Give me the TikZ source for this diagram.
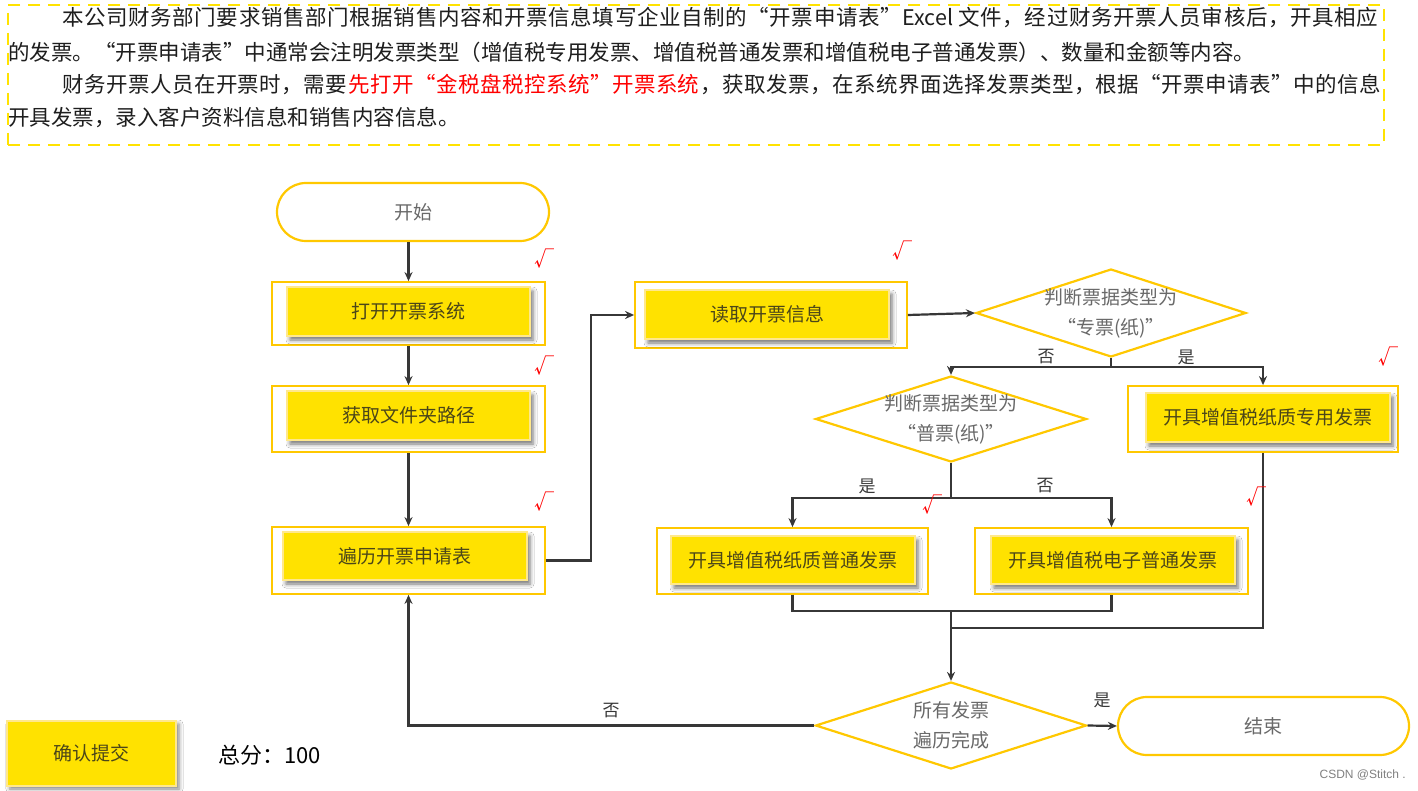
\documentclass[tikz,border=0pt]{standalone}
\usepackage{fontspec}
\setmainfont{Noto Sans CJK SC}
\newfontfamily\wmfont{Liberation Sans}
\usetikzlibrary{shapes.geometric,shapes.misc,shadows.blur,calc,arrows.meta}
\definecolor{ybox}{RGB}{255,226,0}
\definecolor{ygold}{RGB}{255,200,0}
\definecolor{yline}{RGB}{255,232,140}
\definecolor{dgray}{RGB}{55,55,55}
\definecolor{tgray}{RGB}{105,105,105}
\definecolor{boxtext}{RGB}{75,70,25}
\definecolor{txt}{RGB}{30,30,30}
\newcommand{\boxfont}{\fontsize{19}{30}\selectfont}
\newcommand{\introfont}{\fontsize{21.5}{33}\selectfont}
\newcommand{\labfont}{\fontsize{17}{20}\selectfont}
\newcommand{\chkfont}{\fontsize{20}{22}\selectfont}
% full-width quotes
\newcommand{\oq}{\makebox[1em][r]{“}}
\newcommand{\cq}{\makebox[1em][l]{”}}
\newcommand{\redon}{\color{red}}
\newcommand{\redoff}{\color{txt}}
% insert stretchable glue after each token (for justified lines)
\def\spr#1{\ifx\relax#1\unskip\else#1\hfil\expandafter\spr\fi}
\begin{document}
\begin{tikzpicture}[x=1pt,y=-1pt,
  outerbox/.style={draw=ygold, line width=1.8pt, fill=white, inner sep=0pt},
  innerbox/.style={fill=ybox, draw=yline, line width=1.5pt, inner sep=0pt,
    blur shadow={shadow xshift=3pt, shadow yshift=-4pt, shadow blur radius=4pt, shadow opacity=55},
    text=boxtext, font=\boxfont},
  term/.style={rounded rectangle, draw=ygold, line width=2.2pt, fill=white, text=tgray, font=\boxfont, inner sep=0pt},
  dia/.style={diamond, draw=ygold, line width=2.2pt, fill=white, inner sep=0pt},
  dtext/.style={text=tgray, font=\boxfont, align=center, inner sep=0pt},
  arr/.style={draw=dgray, line width=2.2pt, -{Stealth[length=9pt,width=8pt]}},
  ln/.style={draw=dgray, line width=2.2pt},
  lab/.style={font=\labfont, text=dgray, inner sep=0pt},
  chk/.style={text=red, font=\chkfont, inner sep=0pt},
  intro/.style={anchor=west, inner sep=0pt, text=txt, font=\introfont}
]
\useasboundingbox[fill=white] (0,0) rectangle (1418,791);

% intro frame and text
\node[draw=ybox, line width=2.5pt, dash pattern=on 12pt off 8pt, minimum width=1376pt, minimum height=140pt, inner sep=0pt] (introbox) at (696,75) {};
\node[intro] (l1) at (62,18) {\makebox[1316pt][s]{\spr 本公司财务部门要求销售部门根据销售内容和开票信息填写企业自制的\oq 开票申请表\cq{Excel\ }文件，经过财务开票人员审核后，开具相应\relax}};
\node[intro] (l2) at (8,52) {的发票。\oq 开票申请表\cq 中通常会注明发票类型（增值税专用发票、增值税普通发票和增值税电子普通发票）、数量和金额等内容。};
\node[intro] (l3) at (62,85) {\makebox[1319pt][s]{\spr 财务开票人员在开票时，需要\redon 先打开\oq 金税盘税控系统\cq 开票系统\redoff ，获取发票，在系统界面选择发票类型，根据\oq 开票申请表\cq 中的信息\relax}};
\node[intro] (l4) at (8,118) {开具发票，录入客户资料信息和销售内容信息。};

% terminals
\node[term, minimum width=272pt, minimum height=58pt] (start) at (413,212) {开始};
\node[term, minimum width=291pt, minimum height=58pt] (end) at (1263.5,726) {结束};

% process boxes: outer frame + inner yellow box
\node[outerbox, minimum width=273pt, minimum height=63pt] (open) at (408.5,313.5) {};
\node[innerbox, minimum width=243pt, minimum height=49pt] (openIn) at (408.5,311.5) {打开开票系统};

\node[outerbox, minimum width=273pt, minimum height=66pt] (get) at (408.5,419) {};
\node[innerbox, minimum width=243pt, minimum height=49pt] (getIn) at (408.5,415.5) {获取文件夹路径};

\node[outerbox, minimum width=273pt, minimum height=67pt] (trav) at (408.5,560.5) {};
\node[innerbox, minimum width=244pt, minimum height=48pt] (travIn) at (405,556) {遍历开票申请表};

\node[outerbox, minimum width=272pt, minimum height=66pt] (read) at (771,315) {};
\node[innerbox, minimum width=244pt, minimum height=49pt] (readIn) at (767,314.5) {读取开票信息};

\node[outerbox, minimum width=270pt, minimum height=66pt] (zy) at (1263,419) {};
\node[innerbox, minimum width=244pt, minimum height=49pt] (zyIn) at (1268,417.5) {开具增值税纸质专用发票};

\node[outerbox, minimum width=271pt, minimum height=66pt] (pt) at (792.5,561) {};
\node[innerbox, minimum width=244pt, minimum height=48pt] (ptIn) at (793,560) {开具增值税纸质普通发票};

\node[outerbox, minimum width=273pt, minimum height=66pt] (dz) at (1111.5,561) {};
\node[innerbox, minimum width=244pt, minimum height=48pt] (dzIn) at (1113,560) {开具增值税电子普通发票};

% decisions
\node[dia, minimum width=270pt, minimum height=88pt] (d1) at (1111,313) {};
\node[dtext] (d1t) at (d1) {判断票据类型为\\\oq 专票(纸)\cq};
\node[dia, minimum width=271pt, minimum height=86pt] (d2) at (951,419) {};
\node[dtext] (d2t) at (d2) {判断票据类型为\\\oq 普票(纸)\cq};
\node[dia, minimum width=271pt, minimum height=87pt] (d3) at (951,725.5) {};
\node[dtext] (d3t) at (d3) {所有发票\\遍历完成};

% connectors
\draw[arr] (start.south -| open.north) -- (open.north);
\draw[arr] (open.south) -- (get.north);
\draw[arr] (get.south) -- (trav.north);
\draw[arr] (trav.east) -- ++(45,0) |- (read.west);
\draw[arr] (read.east) -- (d1.west);
\coordinate (d1b) at ($(d1.south)+(0,9)$);
\draw[ln] (d1.south) -- (d1b);
\draw[arr] (d1b) -| (d2.north);
\draw[arr] (d1b) -| (zy.north);
\coordinate (d2b) at ($(d2.south)+(0,35)$);
\draw[ln] (d2.south) -- (d2b);
\draw[arr] (d2b) -| (pt.north);
\draw[arr] (d2b) -| (dz.north);
\coordinate (m1) at (951,611);
\coordinate (m2) at (951,628);
\draw[ln] (pt.south) |- (m1) -| (dz.south);
\draw[ln] (zy.south) |- (m2);
\draw[arr] (m1) -- (d3.north);
\draw[arr] (d3.east) -- (end.west);
\draw[arr] (d3.west) -| (trav.south);

% branch labels
\node[lab] (n1) at (1046,357) {否};
\node[lab] (y1) at (1186,357) {是};
\node[lab] (y2) at (867,486) {是};
\node[lab] (n2) at (1045,486) {否};
\node[lab] (y3) at (1102,700) {是};
\node[lab] (n3) at (611,711) {否};

% check marks
\node[chk] (c1) at (544,259) {√};
\node[chk] (c2) at (544,366) {√};
\node[chk] (c3) at (544,502) {√};
\node[chk] (c4) at (902,251) {√};
\node[chk] (c5) at (1388,357) {√};
\node[chk] (c6) at (932,505) {√};
\node[chk] (c7) at (1256,497) {√};

% submit button and score
\node[fill=ybox, draw=yline, line width=1.5pt, inner sep=0pt, minimum width=169pt, minimum height=65pt,
  blur shadow={shadow xshift=3pt, shadow yshift=-3pt, shadow blur radius=4pt, shadow opacity=50},
  text=boxtext, font=\boxfont] (submit) at (91.5,753.5) {确认提交};
\node[anchor=west, inner sep=0pt, text=black, font=\fontsize{22}{24}\selectfont] (score) at (218,755) {总分：100};

% watermark
\node[anchor=east, inner sep=0pt, text=gray, font=\wmfont\fontsize{12}{14}\selectfont] (wm) at (1406,775) {CSDN @Stitch .};
\end{tikzpicture}
\end{document}
